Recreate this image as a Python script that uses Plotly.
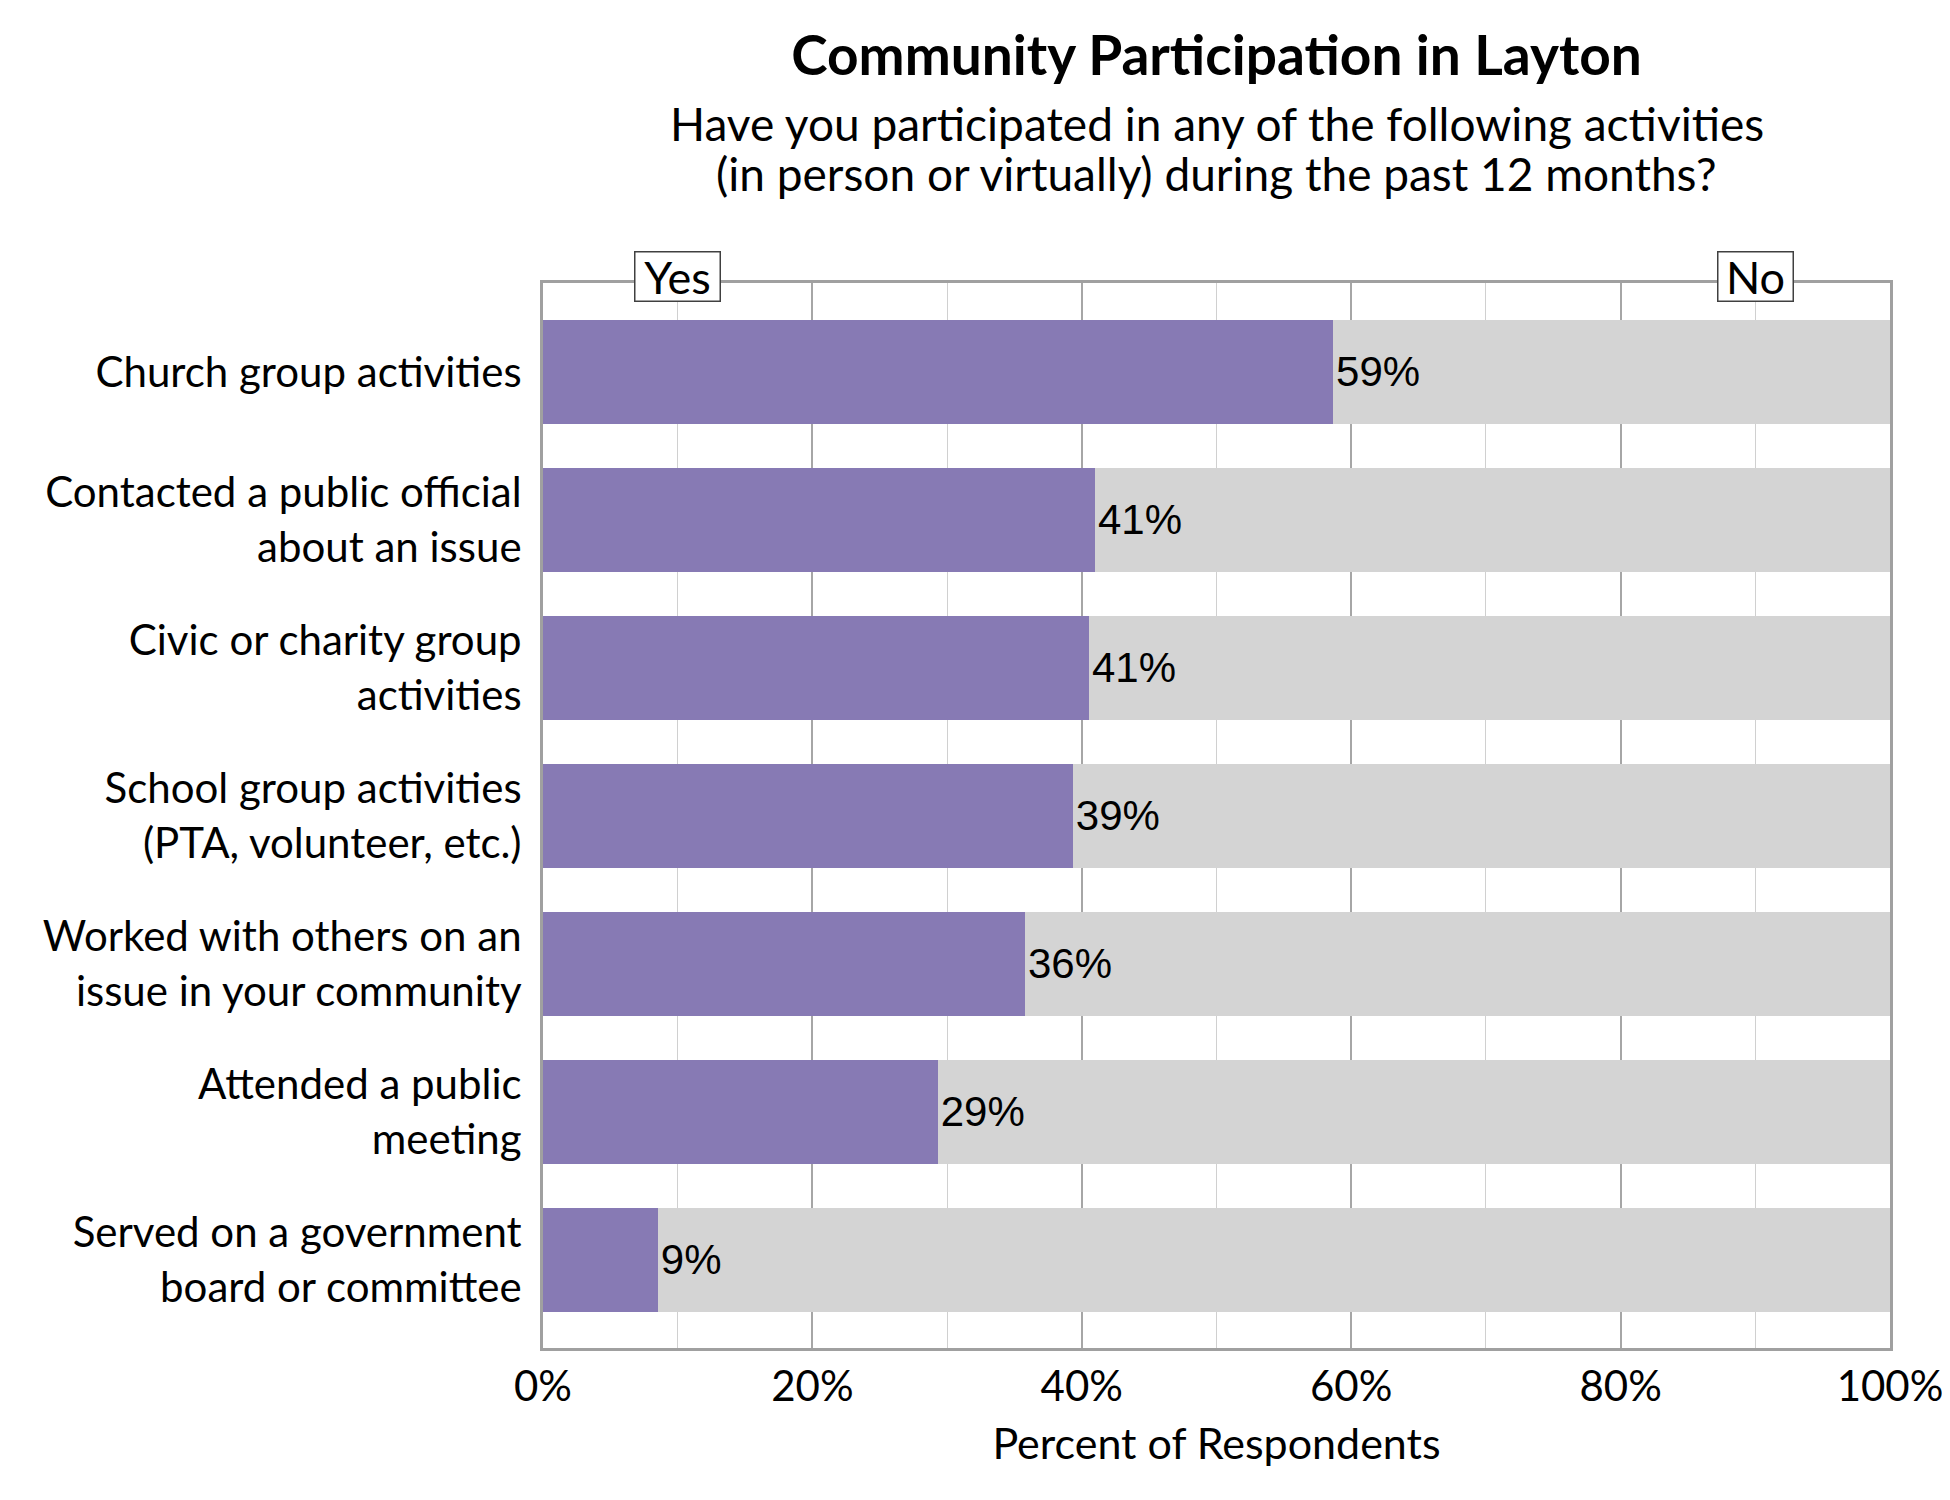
import plotly.graph_objects as go

categories = [
    "Church group activities",
    "Contacted a public official<br>about an issue",
    "Civic or charity group<br>activities",
    "School group activities<br>(PTA, volunteer, etc.)",
    "Worked with others on an<br>issue in your community",
    "Attended a public<br>meeting",
    "Served on a government<br>board or committee",
]
yes_pct = [58.65, 40.98, 40.53, 39.33, 35.78, 29.30, 8.52]
no_pct = [100 - v for v in yes_pct]
yes_labels = [f"{round(v)}%" for v in yes_pct]
x_ticks = [0, 20, 40, 60, 80, 100]
x_tick_text = [f"{t}%" for t in x_ticks]

W, H = 1950, 1500
OFF = 8  # page body margin
# desired plot area in page pixels
PL, PR, PT, PB = 543, 1890, 283, 1348
ML = PL - OFF
MT = PT - OFF
MR = W + OFF - PR
MB = H + OFF - PB
PH = PB - PT

LABEL_FONT = "Lato, Open Sans, sans-serif"
NUM_FONT = "Liberation Sans, Arial, sans-serif"

fig = go.Figure()
fig.add_trace(go.Bar(
    y=categories, x=yes_pct, orientation="h", name="Yes",
    marker=dict(color="#877AB4", line=dict(width=0)), width=0.7,
    hoverinfo="skip",
))
fig.add_trace(go.Bar(
    y=categories, x=no_pct, orientation="h", name="No",
    marker=dict(color="#D4D4D4", line=dict(width=0)), width=0.7,
    text=yes_labels, textposition="inside", insidetextanchor="start",
    textangle=0, constraintext="none",
    insidetextfont=dict(family=NUM_FONT, size=42, color="black"),
    hoverinfo="skip",
))

def paper_y(page_px):
    return (PB - page_px) / PH

fig.update_layout(
    width=W, height=H,
    margin=dict(l=ML, r=MR, t=MT, b=MB, pad=0),
    barmode="stack",
    showlegend=False,
    paper_bgcolor="white", plot_bgcolor="white",
    font=dict(family=LABEL_FONT, size=42, color="black"),
    title=dict(
        text="<b>Community Participation in Layton</b>",
        font=dict(family=LABEL_FONT, size=55, color="black"),
        x=((PL + PR) / 2 - OFF) / W, xanchor="center",
        y=1 - (56 - OFF) / H, yanchor="middle",
    ),
    xaxis=dict(
        range=[0, 100], tickvals=x_ticks, ticktext=x_tick_text,
        showgrid=True, gridcolor="#A6A6A6", gridwidth=2,
        minor=dict(dtick=10, showgrid=True, gridcolor="#D0D0D0", gridwidth=1),
        showline=True, mirror=True, linecolor="#A0A0A0", linewidth=3,
        ticks="", ticklabelstandoff=0,
        tickfont=dict(family=LABEL_FONT, size=42, color="black"),
        title=dict(text="Percent of Respondents", standoff=20,
                   font=dict(family=LABEL_FONT, size=43, color="black")),
        zeroline=False, fixedrange=True,
    ),
    yaxis=dict(
        categoryorder="array", categoryarray=categories,
        range=[6.595, -0.6],
        showgrid=False, zeroline=False,
        showline=True, mirror=True, linecolor="#A0A0A0", linewidth=3,
        ticks="", ticklabelstandoff=10,
        tickfont=dict(family=LABEL_FONT, size=42, color="black"),
        fixedrange=True,
    ),
    annotations=[
        dict(
            text="Have you participated in any of the following activities",
            xref="paper", yref="paper", x=0.5, y=paper_y(123),
            xanchor="center", yanchor="middle", showarrow=False,
            font=dict(family=LABEL_FONT, size=46, color="black"),
        ),
        dict(
            text="(in person or virtually) during the past 12 months?",
            xref="paper", yref="paper", x=0.5, y=paper_y(173),
            xanchor="center", yanchor="middle", showarrow=False,
            font=dict(family=LABEL_FONT, size=46, color="black"),
        ),
        dict(
            text="Yes", xref="x", yref="paper", x=10, y=paper_y(276),
            xanchor="center", yanchor="middle", showarrow=False,
            width=82, height=46, borderpad=1,
            bgcolor="white", bordercolor="#404040", borderwidth=1.5,
            font=dict(family=LABEL_FONT, size=45, color="black"),
        ),
        dict(
            text="No", xref="x", yref="paper", x=90, y=paper_y(276),
            xanchor="center", yanchor="middle", showarrow=False,
            width=72, height=46, borderpad=1,
            bgcolor="white", bordercolor="#404040", borderwidth=1.5,
            font=dict(family=LABEL_FONT, size=45, color="black"),
        ),
    ],
)

fig.write_html("out.html")
